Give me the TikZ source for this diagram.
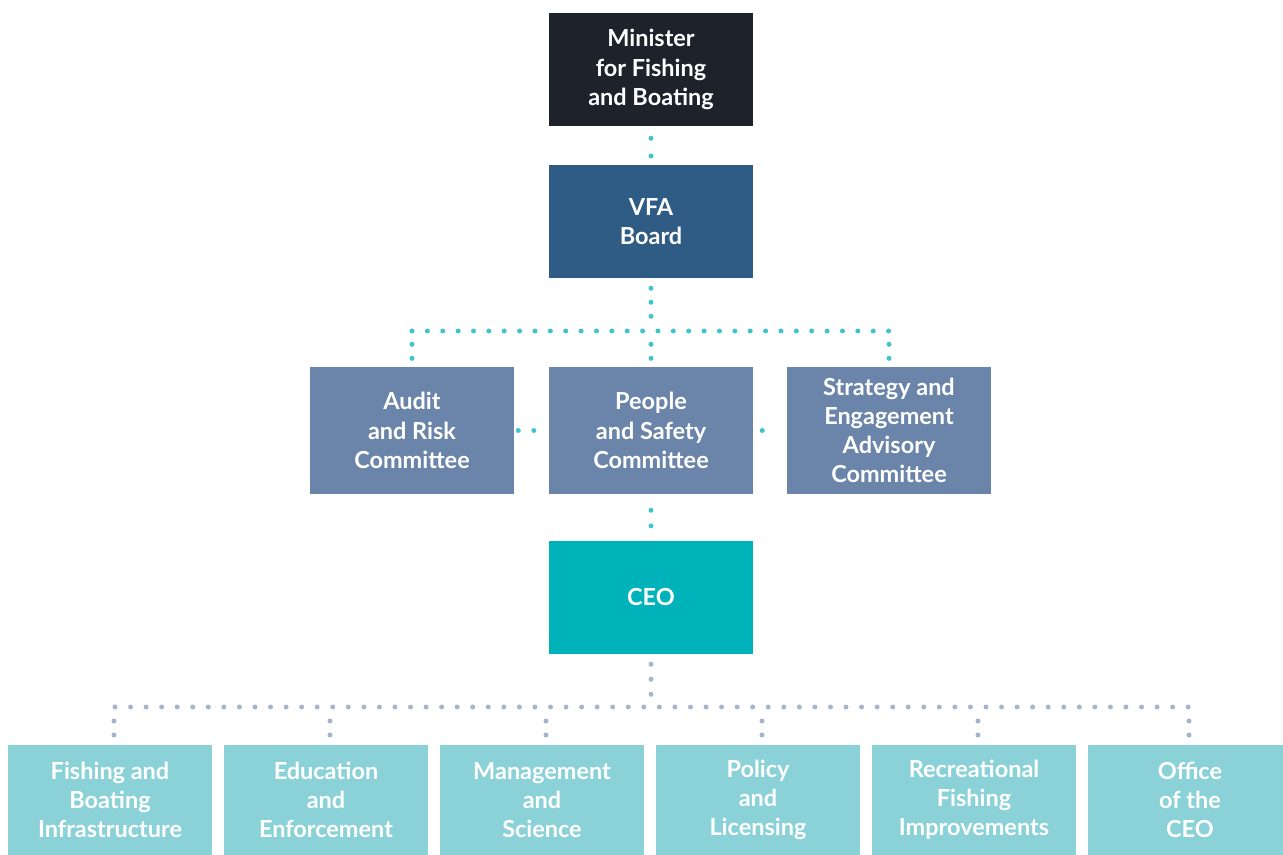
\documentclass[tikz,border=0pt]{standalone}
\usepackage{fontspec}
\setmainfont{Lato}[UprightFont=* Bold]
\usetikzlibrary{positioning}
\definecolor{minister}{HTML}{1D222B}
\definecolor{board}{HTML}{2E5C85}
\definecolor{committee}{HTML}{6A85A9}
\definecolor{ceo}{HTML}{00B3BB}
\definecolor{branch}{HTML}{8AD2D8}
\definecolor{teallink}{HTML}{40C4CC}
\definecolor{greylink}{HTML}{A8B4CC}

\begin{document}
\begin{tikzpicture}[x=0.75pt,y=-0.75pt,
    unit/.style={minimum width=153pt,minimum height=84.75pt,inner sep=0pt,
      text=white,align=center,font=\fontsize{17.6}{21.9}\selectfont},
    branchbox/.style={unit,minimum height=82.5pt},
    link/.style={line width=3.75pt,line cap=round,dash pattern=on 0pt off #1},
    link/.default=11.7pt,
    toplink/.style={link=#1,teallink},
    toplink/.default=11.7pt,
    lowlink/.style={link=#1,greylink},
    lowlink/.default=11.7pt]
  \useasboundingbox (0,0) rectangle (1283,855);

  % top of the chain
  \node[unit,fill=minister] (minister) at (651,69.5) {Minister\\for Fishing\\and Boating};
  \node[unit,fill=board] (board) at (651,221.5) {VFA\\Board};

  % committees
  \node[unit,fill=committee,minimum height=95.25pt] (people) at (651,430.5) {People\\and Safety\\Committee};
  \node[unit,fill=committee,minimum height=95.25pt] (audit) at (412,430.5) {Audit\\and Risk\\Committee};
  \node[unit,fill=committee,minimum height=95.25pt] (strategy) at (889,430.5) {Strategy and\\Engagement\\Advisory\\Committee};

  \node[unit,fill=ceo] (ceo) at (651,597.5) {CEO};

  % branches
  \node[branchbox,fill=branch] (infra) at (110,800) {Fishing and\\Boating\\Infrastructure};
  \node[branchbox,fill=branch] (educ) at (326,800) {Education\\and\\Enforcement};
  \node[branchbox,fill=branch] (mgmt) at (542,800) {Management\\and\\Science};
  \node[branchbox,fill=branch] (policy) at (758,800) {Policy\\and\\Licensing};
  \node[branchbox,fill=branch] (recfish) at (974,800) {Recreational\\Fishing\\Improvements};
  \node[branchbox,fill=branch] (office) at (1190,800) {Office\\of the\\CEO};

  \coordinate (cbus) at (651,331);
  \coordinate (bbus) at (651,707);

  % board level links
  \draw[toplink=13.3pt] ([yshift=-9pt]minister.south) -- ([yshift=6pt]board.north);
  \draw[toplink=10.5pt] ([yshift=-7.5pt]board.south) -- ([yshift=10.5pt]cbus);
  % 31 gaps between the two outer drops
  \draw[toplink=11.53pt] (audit.north |- cbus) -- (strategy.north |- cbus);
  \foreach \c in {audit,people,strategy}
    \draw[toplink=10.5pt] ([yshift=-10pt]\c.north |- cbus) -- ([yshift=6pt]\c.north);
  \draw[toplink] ([xshift=3pt]audit.east) -- ([xshift=-0.5pt]people.west);
  \draw[toplink=12pt] ([xshift=6.75pt]people.east) -- ([xshift=-6.5pt]strategy.west);
  \draw[toplink] ([yshift=-12pt]people.south) -- ([yshift=10pt]ceo.north);

  % staff level links, 69 gaps along the bus
  \draw[lowlink=11.25pt] ([yshift=-7.5pt]ceo.south) -- ([yshift=9.5pt]bbus);
  \draw[lowlink=11.665pt] ([xshift=3.75pt]infra.north |- bbus) -- ([xshift=-0.75pt]office.north |- bbus);
  \foreach \b in {infra,educ,mgmt,policy,recfish}
    \draw[lowlink=10.5pt] ([xshift=3pt,yshift=-10.5pt]\b.north |- bbus) -- ([xshift=3pt,yshift=7pt]\b.north);
  \draw[lowlink=10.5pt] ([xshift=-0.75pt,yshift=-10.5pt]office.north |- bbus) -- ([xshift=-0.75pt,yshift=7pt]office.north);
\end{tikzpicture}
\end{document}
